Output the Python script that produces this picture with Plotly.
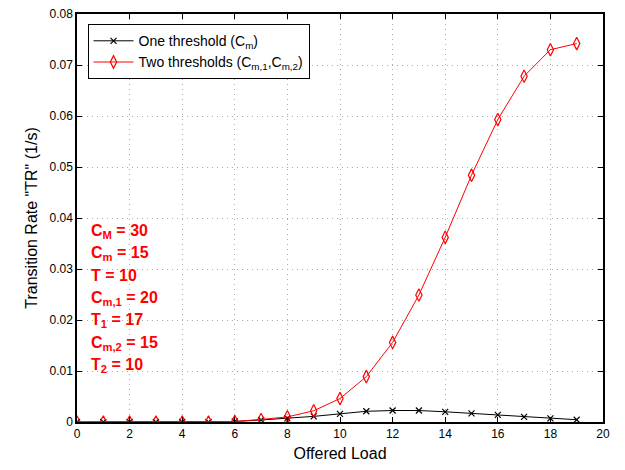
import plotly.graph_objects as go

# Offered load points
load = list(range(20))

# Transition rate with one threshold (C_m)
tr_one = [0.0, 0.0, 0.0, 0.0, 0.0, 0.0, 0.0001, 0.0004, 0.0007, 0.0011,
          0.0016, 0.0021, 0.00225, 0.00225, 0.0020, 0.0017, 0.0014, 0.0010,
          0.0007, 0.00045]

# Transition rate with two thresholds (C_m,1, C_m,2)
tr_two = [0.0, 0.0, 0.0, 0.0, 0.0, 0.0, 0.0001, 0.0005, 0.0010, 0.0022,
          0.0046, 0.0089, 0.0156, 0.0249, 0.0362, 0.0484, 0.0593, 0.0678,
          0.0730, 0.0742]

x_ticks = list(range(0, 21, 2))
y_ticks = [0, 0.01, 0.02, 0.03, 0.04, 0.05, 0.06, 0.07, 0.08]
y_tick_text = ["0", "0.01", "0.02", "0.03", "0.04", "0.05", "0.06", "0.07", "0.08"]

params = [
    "C<sub>M</sub> = 30",
    "C<sub>m</sub> = 15",
    "T = 10",
    "C<sub>m,1</sub> = 20",
    "T<sub>1</sub> = 17",
    "C<sub>m,2</sub> = 15",
    "T<sub>2</sub> = 10",
]

font_family = "Liberation Sans, Arial, sans-serif"

fig = go.Figure()
fig.add_trace(go.Scatter(
    x=load, y=tr_one, mode="lines+markers",
    name="One threshold (C<sub>m</sub>)",
    line=dict(color="black", width=1),
    marker=dict(symbol="x-thin", size=6, line=dict(color="black", width=1.2)),
))
fig.add_trace(go.Scatter(
    x=load, y=tr_two, mode="lines+markers",
    name="Two thresholds (C<sub>m,1</sub>,C<sub>m,2</sub>)",
    line=dict(color="red", width=1),
    marker=dict(symbol="diamond-tall-open", size=9, color="red", line=dict(color="red", width=1.2)),
))

axis_common = dict(
    showline=True, linecolor="black", linewidth=1.5, mirror="ticks",
    ticks="inside", ticklen=5, tickcolor="black",
    showgrid=True, gridcolor="#aaaaaa", griddash="1px,4px", gridwidth=1,
    zeroline=False,
    tickfont=dict(family=font_family, size=12, color="black"),
)

fig.update_xaxes(
    range=[0, 20], tickvals=x_ticks,
    title=dict(text="Offered Load", font=dict(family=font_family, size=16, color="black"), standoff=8),
    **axis_common,
)
fig.update_yaxes(
    range=[0, 0.08], tickvals=y_ticks, ticktext=y_tick_text,
    title=dict(text="Transition Rate \"TR\" (1/s)", font=dict(family=font_family, size=16, color="black"), standoff=8),
    **axis_common,
)

# Parameter block drawn in red bold
for i, txt in enumerate(params):
    fig.add_annotation(
        xref="paper", yref="paper", x=0.022, y=0.468 - i * 0.055,
        text="<b>" + txt + "</b>", showarrow=False, xanchor="left", yanchor="middle",
        font=dict(family=font_family, size=16, color="red"),
    )

fig.update_layout(
    width=625, height=470,
    margin=dict(l=77, r=22, t=7, b=48),
    paper_bgcolor="white", plot_bgcolor="white",
    showlegend=True,
    legend=dict(
        x=0.02, y=0.975, xanchor="left", yanchor="top",
        bgcolor="white", bordercolor="black", borderwidth=1,
        font=dict(family=font_family, size=14, color="black"),
        tracegroupgap=0, itemwidth=40,
    ),
)

fig.write_html("out.html")
